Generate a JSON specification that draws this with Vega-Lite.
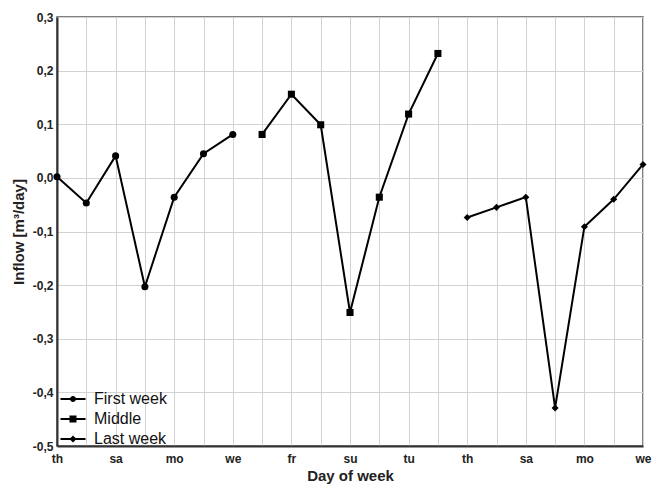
{
  "$schema": "https://vega.github.io/schema/vega-lite/v6.json",
  "width": 586,
  "height": 429,
  "autosize": {"type": "none"},
  "padding": {"left": 57, "top": 17, "right": 11, "bottom": 42},
  "background": "white",
  "config": {
    "font": "Liberation Sans",
    "view": {"stroke": "#555", "strokeWidth": 1.5},
    "axis": {
      "labelFont": "Liberation Sans",
      "labelFontSize": 12,
      "labelFontWeight": "bold",
      "labelColor": "#222",
      "titleFont": "Liberation Sans",
      "titleFontSize": 15,
      "titleFontWeight": "bold",
      "titleColor": "#222",
      "gridColor": "#d2d2d2",
      "gridWidth": 1,
      "gridOpacity": 1,
      "domainColor": "#333",
      "domainWidth": 2,
      "ticks": false,
      "labelFlush": false,
      "labelOverlap": false
    }
  },
  "data": {
    "values": [
      {"week": "First week", "idx": 0, "day": "th", "inflow": 0.002},
      {"week": "First week", "idx": 1, "day": "fr", "inflow": -0.047},
      {"week": "First week", "idx": 2, "day": "sa", "inflow": 0.041},
      {"week": "First week", "idx": 3, "day": "su", "inflow": -0.203},
      {"week": "First week", "idx": 4, "day": "mo", "inflow": -0.036},
      {"week": "First week", "idx": 5, "day": "tu", "inflow": 0.045},
      {"week": "First week", "idx": 6, "day": "we", "inflow": 0.081},
      {"week": "Middle", "idx": 7, "day": "th", "inflow": 0.081},
      {"week": "Middle", "idx": 8, "day": "fr", "inflow": 0.156},
      {"week": "Middle", "idx": 9, "day": "sa", "inflow": 0.099},
      {"week": "Middle", "idx": 10, "day": "su", "inflow": -0.251},
      {"week": "Middle", "idx": 11, "day": "mo", "inflow": -0.036},
      {"week": "Middle", "idx": 12, "day": "tu", "inflow": 0.119},
      {"week": "Middle", "idx": 13, "day": "we", "inflow": 0.232},
      {"week": "Last week", "idx": 14, "day": "th", "inflow": -0.074},
      {"week": "Last week", "idx": 15, "day": "fr", "inflow": -0.055},
      {"week": "Last week", "idx": 16, "day": "sa", "inflow": -0.036},
      {"week": "Last week", "idx": 17, "day": "su", "inflow": -0.429},
      {"week": "Last week", "idx": 18, "day": "mo", "inflow": -0.091},
      {"week": "Last week", "idx": 19, "day": "tu", "inflow": -0.040},
      {"week": "Last week", "idx": 20, "day": "we", "inflow": 0.025}
    ]
  },
  "encoding": {
    "x": {
      "field": "idx",
      "type": "quantitative",
      "scale": {"domain": [0, 20], "nice": false, "zero": false},
      "axis": {
        "title": "Day of week",
        "values": [0,1,2,3,4,5,6,7,8,9,10,11,12,13,14,15,16,17,18,19,20],
        "labelExpr": "datum.value % 2 == 0 ? ['th','fr','sa','su','mo','tu','we'][datum.value % 7] : ''",
        "labelPadding": 7,
        "titlePadding": 4
      }
    },
    "y": {
      "field": "inflow",
      "type": "quantitative",
      "scale": {"domain": [-0.5, 0.3], "nice": false, "zero": false},
      "axis": {
        "title": "Inflow [m³/day]",
        "values": [-0.5, -0.4, -0.3, -0.2, -0.1, 0, 0.1, 0.2, 0.3],
        "labelExpr": "replace(replace(format(datum.value, '.1f'), '.', ','), '−', '-')",
        "labelPadding": 4,
        "titlePadding": 6
      }
    }
  },
  "resolve": {"scale": {"shape": "independent"}, "legend": {"shape": "independent"}},
  "layer": [
    {
      "mark": {"type": "line", "color": "black", "strokeWidth": 2},
      "encoding": {"detail": {"field": "week"}}
    },
    {
      "mark": {"type": "point", "filled": true, "color": "black", "opacity": 1, "size": 50},
      "encoding": {
        "shape": {
          "field": "week",
          "type": "nominal",
          "scale": {"domain": ["First week", "Middle", "Last week"], "range": ["circle", "square", "diamond"]},
          "legend": null
        }
      }
    },
    {
      "mark": {"type": "point", "filled": true, "color": "black", "opacity": 1, "size": 0},
      "encoding": {
        "shape": {
          "field": "week",
          "type": "nominal",
          "scale": {
            "domain": ["First week", "Middle", "Last week"],
            "range": [
              "M-2.5,-0.2H2.5V0.2H-2.5ZM0.6,0A0.6,0.6 0 1 1 -0.6,0A0.6,0.6 0 1 1 0.6,0Z",
              "M-2.5,-0.2H2.5V0.2H-2.5ZM-0.7,-0.7H0.7V0.7H-0.7Z",
              "M-2.5,-0.2H2.5V0.2H-2.5ZM0,-0.7L0.7,0L0,0.7L-0.7,0Z"
            ]
          },
          "legend": {
            "title": null,
            "orient": "bottom-left",
            "offset": -1,
            "padding": 0,
            "labelFont": "Liberation Sans",
            "labelFontSize": 16,
            "labelColor": "#111",
            "symbolSize": 100,
            "symbolOffset": 9,
            "labelOffset": 13,
            "rowPadding": 4,
            "symbolFillColor": "black",
            "symbolOpacity": 1
          }
        }
      }
    }
  ]
}
